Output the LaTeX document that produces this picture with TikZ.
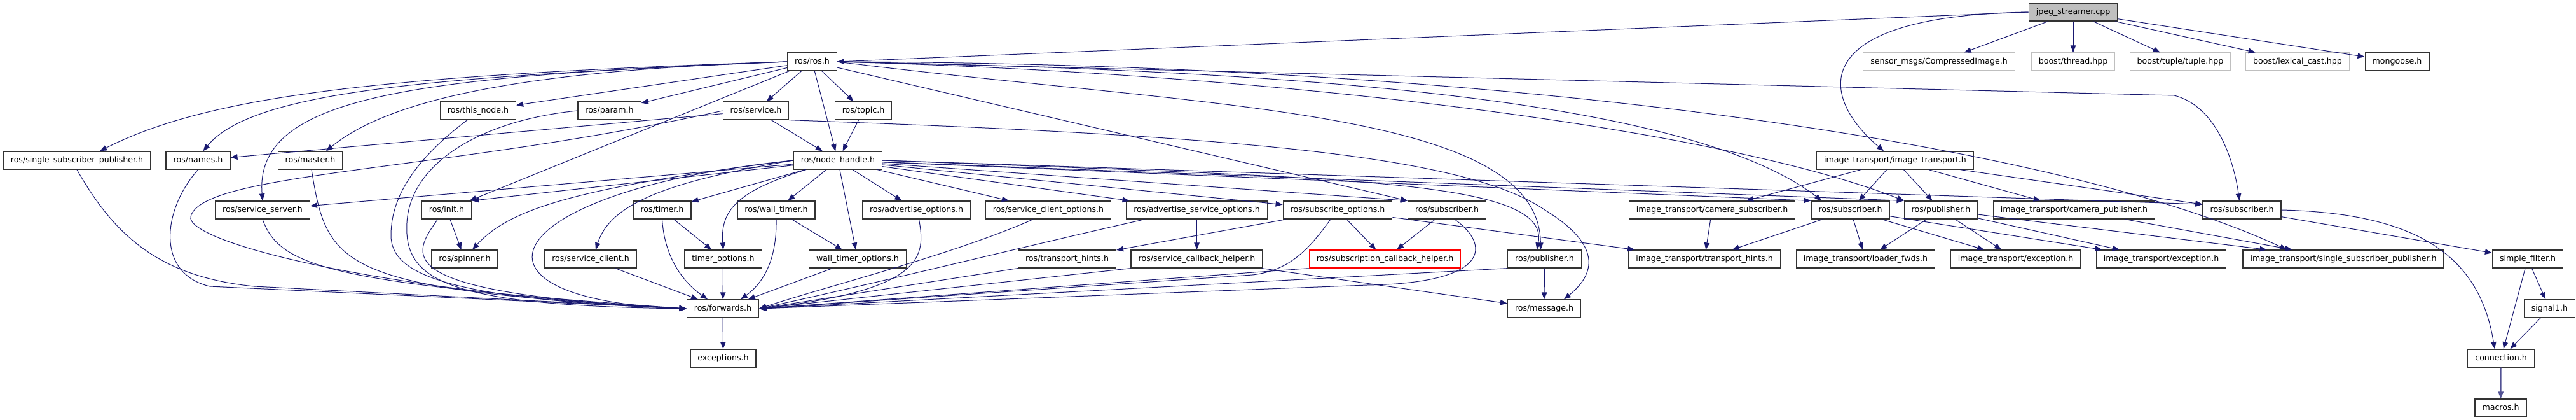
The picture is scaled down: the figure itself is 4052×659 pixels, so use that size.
\documentclass[tikz,border=0pt]{standalone}
\usepackage{fontspec}
\setmainfont{DejaVu Sans}
\usetikzlibrary{arrows.meta}
\definecolor{edgeblue}{RGB}{25,25,112}
\definecolor{grey75}{RGB}{191,191,191}
\begin{document}
\begin{tikzpicture}[x=1pt,y=-1pt,
  >={Triangle[length=11pt,width=8.5pt]},
  hdr/.style={draw=black!80,line width=1.3pt,fill=white,inner xsep=11.5pt,inner ysep=0pt,
    minimum height=28pt,text height=9.5pt,text depth=3pt,font=\fontsize{12.6}{15}\selectfont},
  hdrext/.style={hdr,draw=grey75},
  hdrroot/.style={hdr,fill=grey75},
  hdrcut/.style={hdr,draw=red},
  dep/.style={->,draw=edgeblue,line width=1pt}]
\useasboundingbox (0,0) rectangle (4052,659);
\node[hdrroot] (jpeg) at (3261,19) {jpeg\_streamer.cpp};
\node[hdr] (ros) at (1277.5,97) {ros/ros.h};
\node[hdrext] (sensor) at (3050,97) {sensor\_msgs/CompressedImage.h};
\node[hdrext] (bthread) at (3261,97) {boost/thread.hpp};
\node[hdrext] (btuple) at (3429.5,97) {boost/tuple/tuple.hpp};
\node[hdrext] (bcast) at (3614,97) {boost/lexical\_cast.hpp};
\node[hdr] (mongoose) at (3770.5,97) {mongoose.h};
\node[hdr] (thisnode) at (752,174) {ros/this\_node.h};
\node[hdr] (param) at (958.5,174) {ros/param.h};
\node[hdr] (service) at (1189,174) {ros/service.h};
\node[hdr] (topic) at (1358,174) {ros/topic.h};
\node[hdr] (ssp) at (121,252) {ros/single\_subscriber\_publisher.h};
\node[hdr] (names) at (311.5,252) {ros/names.h};
\node[hdr] (master) at (488,252) {ros/master.h};
\node[hdr] (nh) at (1318,252) {ros/node\_handle.h};
\node[hdr] (it) at (2981,252) {image\_transport/image\_transport.h};
\node[hdr] (srvserver) at (413,330) {ros/service\_server.h};
\node[hdr] (init) at (702.5,330) {ros/init.h};
\node[hdr] (timer) at (1041.5,330) {ros/timer.h};
\node[hdr] (wtimer) at (1221,330) {ros/wall\_timer.h};
\node[hdr] (advopt) at (1441.5,330) {ros/advertise\_options.h};
\node[hdr] (scopt) at (1649,330) {ros/service\_client\_options.h};
\node[hdr] (asopt) at (1882.5,330) {ros/advertise\_service\_options.h};
\node[hdr] (subopt) at (2104,330) {ros/subscribe\_options.h};
\node[hdr] (subA) at (2276,330) {ros/subscriber.h};
\node[hdr] (camsub) at (2693,330) {image\_transport/camera\_subscriber.h};
\node[hdr] (subB) at (2910.5,330) {ros/subscriber.h};
\node[hdr] (pubB) at (3053,330) {ros/publisher.h};
\node[hdr] (campub) at (3262.5,330) {image\_transport/camera\_publisher.h};
\node[hdr] (subC) at (3526.5,330) {ros/subscriber.h};
\node[hdr] (spinner) at (731,407) {ros/spinner.h};
\node[hdr] (sclient) at (929,407) {ros/service\_client.h};
\node[hdr] (topt) at (1137.5,407) {timer\_options.h};
\node[hdr] (wtopt) at (1349,407) {wall\_timer\_options.h};
\node[hdr] (thints) at (1678.5,407) {ros/transport\_hints.h};
\node[hdr] (scbh) at (1882.5,407) {ros/service\_callback\_helper.h};
\node[hdrcut] (subcbh) at (2178.5,407) {ros/subscription\_callback\_helper.h};
\node[hdr] (pubA) at (2429.5,407) {ros/publisher.h};
\node[hdr] (itthints) at (2681,407) {image\_transport/transport\_hints.h};
\node[hdr] (loader) at (2934.5,407) {image\_transport/loader\_fwds.h};
\node[hdr] (excA) at (3170.5,407) {image\_transport/exception.h};
\node[hdr] (excB) at (3399.5,407) {image\_transport/exception.h};
\node[hdr] (itssp) at (3686,407) {image\_transport/single\_subscriber\_publisher.h};
\node[hdr] (sfilter) at (3976,407) {simple\_filter.h};
\node[hdr] (fwd) at (1137,485) {ros/forwards.h};
\node[hdr] (msg) at (2429,485) {ros/message.h};
\node[hdr] (signal) at (4010.5,485) {signal1.h};
\node[hdr] (exc) at (1137.5,563) {exceptions.h};
\node[hdr] (conn) at (3934,563) {connection.h};
\node[hdr] (macros) at (3933.5,641) {macros.h};
\draw[dep] (jpeg.west) -- (ros.east);
\draw[dep] (jpeg.west) .. controls (2840,25) and (2860,150) .. ([xshift=-18pt]it.north);
\draw[dep] (jpeg) -- (sensor);
\draw[dep] (jpeg) -- (bthread);
\draw[dep] (jpeg) -- (btuple);
\draw[dep] (jpeg) -- (bcast);
\draw[dep] (jpeg) -- (mongoose);
\draw[dep] (ros.west) .. controls (600,118) and (330,150) .. ([xshift=36pt]ssp.north);
\draw[dep] (ros.west) .. controls (700,120) and (400,140) .. ([xshift=8pt]names.north);
\draw[dep] (ros.west) .. controls (850,110) and (620,150) .. ([xshift=25pt]master.north);
\draw[dep] (ros.west) .. controls (650,120) and (400,150) .. (srvserver.north);
\draw[dep] (ros) -- (thisnode);
\draw[dep] (ros) -- (param);
\draw[dep] (ros) -- (init);
\draw[dep] (ros) -- (service);
\draw[dep] (ros) -- (nh);
\draw[dep] (ros) -- (topic);
\draw[dep] (ros) -- (subA.north west);
\draw[dep] (ros.east) .. controls (1900,170) and (2420,170) .. ([xshift=-6pt]pubA.north);
\draw[dep] (ros.east) -- (3420,150) .. controls (3490,168) and (3515,260) .. ([xshift=-4pt]subC.north);
\draw[dep] (ros.east) .. controls (2000,110) and (2650,150) .. ([xshift=-45pt]subB.north);
\draw[dep] (ros.east) .. controls (2000,115) and (2700,200) .. ([xshift=-58pt]pubB.north);
\draw[dep] (ros.east) .. controls (2400,100) and (3250,230) .. ([xshift=-89pt]itssp.north);
\draw[dep] (service) -- (nh);
\draw[dep] (service) -- (names);
\draw[dep] (service.west) .. controls (700,270) and (320,270) .. (300,340) .. controls (290,380) and (600,460) .. (fwd.west);
\draw[dep] (service.south east) .. controls (1900,212) and (2300,240) .. (2430,330) .. controls (2520,385) and (2510,430) .. ([xshift=31pt]msg.north);
\draw[dep] (topic) -- (nh);
\draw[dep] ([xshift=-17pt]thisnode.south) .. controls (640,260) and (615,320) .. (615,370) .. controls (615,430) and (700,470) .. (fwd.west);
\draw[dep] (param.west) .. controls (750,190) and (645,260) .. (640,350) .. controls (635,440) and (700,480) .. (fwd.west);
\draw[dep] ([xshift=2pt]master.south) .. controls (515,420) and (530,455) .. (fwd.west);
\draw[dep] (names.south) .. controls (255,330) and (245,430) .. (330,450) -- (fwd.west);
\draw[dep] (ssp.south) .. controls (180,370) and (250,435) .. (400,450) -- (fwd.west);
\draw[dep] (srvserver.south) .. controls (440,420) and (520,445) .. (fwd.west);
\draw[dep] (nh) -- (srvserver);
\draw[dep] (nh) -- (init.north east);
\draw[dep] (nh.west) .. controls (900,295) and (800,330) .. ([xshift=12pt]spinner.north);
\draw[dep] (nh.west) .. controls (780,300) and (700,470) .. (fwd.west);
\draw[dep] (nh.west) .. controls (1050,285) and (960,320) .. ([xshift=8pt]sclient.north);
\draw[dep] (nh) -- (timer);
\draw[dep] ([xshift=-50pt]nh.south) .. controls (1160,300) and (1133,330) .. (topt.north);
\draw[dep] (nh) -- (wtimer);
\draw[dep] (nh) -- (wtopt);
\draw[dep] (nh) -- (advopt);
\draw[dep] (nh) -- (scopt);
\draw[dep] (nh) -- (asopt);
\draw[dep] (nh) -- (subopt);
\draw[dep] (nh) -- (subA.north west);
\draw[dep] (nh.east) .. controls (2100,280) and (2440,280) .. ([xshift=-12pt]pubA.north);
\draw[dep] (nh) -- (subB.north west);
\draw[dep] (nh) -- (pubB.north west);
\draw[dep] (nh.east) -- ([yshift=9pt]subC.west);
\draw[dep] (init) -- (spinner);
\draw[dep] ([xshift=-14pt]init.south) .. controls (650,400) and (600,460) .. (fwd.west);
\draw[dep] (sclient) -- (fwd);
\draw[dep] (timer) -- (topt);
\draw[dep] (timer.south) .. controls (1045,400) and (1070,440) .. ([xshift=-24pt]fwd.north);
\draw[dep] (topt) -- (fwd);
\draw[dep] (wtimer) -- (wtopt);
\draw[dep] (wtimer.south) .. controls (1222,410) and (1200,445) .. ([xshift=28pt]fwd.north);
\draw[dep] (wtopt) -- (fwd);
\draw[dep] ([xshift=4pt]advopt.south) .. controls (1455,400) and (1460,455) .. (fwd.east);
\draw[dep] ([xshift=-24pt]scopt.south) .. controls (1500,400) and (1300,450) .. (fwd.east);
\draw[dep] (asopt) -- (scbh);
\draw[dep] ([xshift=-82pt]asopt.south) .. controls (1600,390) and (1400,440) .. (fwd.east);
\draw[dep] (thints.south west) -- (fwd.east);
\draw[dep] (scbh.south west) -- (fwd.east);
\draw[dep] (scbh) -- (msg);
\draw[dep] (subopt) -- (thints);
\draw[dep] (subopt) -- (subcbh);
\draw[dep] ([xshift=-11pt]subopt.south) .. controls (2060,390) and (2030,425) .. (1970,432) -- (fwd.east);
\draw[dep] (subopt) -- (itthints);
\draw[dep] (subA) -- (subcbh);
\draw[dep] ([xshift=12pt]subA.south) .. controls (2345,385) and (2345,445) .. (2150,448) -- (fwd.east);
\draw[dep] (subcbh.south west) -- (fwd.east);
\draw[dep] (pubA) -- (msg);
\draw[dep] (pubA.south west) -- (fwd.east);
\draw[dep] (it) -- (camsub);
\draw[dep] (it) -- (subB);
\draw[dep] (it) -- (pubB);
\draw[dep] (it) -- (campub);
\draw[dep] (it) -- (subC);
\draw[dep] (camsub) -- (itthints);
\draw[dep] (subB) -- (itthints);
\draw[dep] (subB) -- (loader);
\draw[dep] (subB) -- (excA);
\draw[dep] (subB) -- (excB);
\draw[dep] (pubB) -- (loader);
\draw[dep] (pubB) -- (excA);
\draw[dep] (pubB) -- (excB);
\draw[dep] (pubB) -- (itssp);
\draw[dep] (campub) -- (itssp);
\draw[dep] (subC) -- (sfilter);
\draw[dep] (subC.east) .. controls (3800,335) and (3900,400) .. ([xshift=-10pt]conn.north);
\draw[dep] (sfilter) -- (signal);
\draw[dep] (sfilter) -- (conn);
\draw[dep] (signal) -- (conn);
\draw[dep] (fwd) -- (exc);
\draw[dep,draw=edgeblue!75,line width=1.6pt] (conn) -- (macros);
\end{tikzpicture}
\end{document}
